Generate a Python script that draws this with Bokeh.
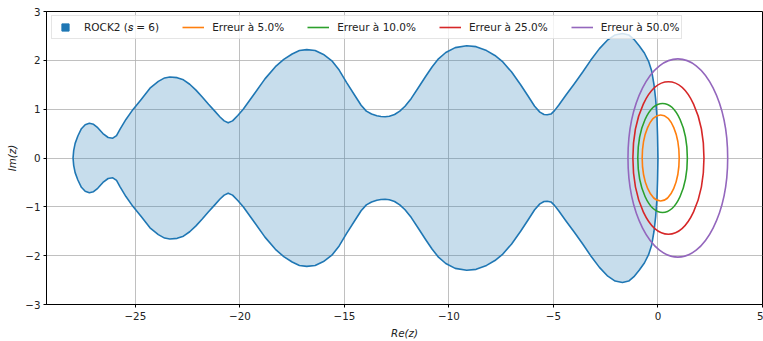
from bokeh.plotting import figure
from bokeh.models import Range1d, FixedTicker, Legend, LegendItem, ColumnDataSource
from bokeh.embed import file_html
from bokeh.resources import INLINE

# Upper half of the ROCK2 (s = 6) stability boundary, left to right (Re, Im)
boundary_re = [
    -27.98, -27.95, -27.88, -27.75, -27.58, -27.40, -27.20, -27.00, -26.80, -26.55,
    -26.30, -26.08, -25.90, -25.73, -25.45, -25.12, -24.72, -24.30, -23.90, -23.60,
    -23.35, -23.00, -22.70, -22.40, -22.10, -21.80, -21.50, -21.20, -20.95, -20.75,
    -20.56, -20.35, -20.10, -19.84, -19.28, -18.80, -18.30, -17.90, -17.50, -17.15,
    -16.80, -16.40, -16.00, -15.60, -15.25, -14.90, -14.50, -14.20, -13.95, -13.70,
    -13.45, -13.25, -13.05, -12.85, -12.60, -12.35, -12.10, -11.80, -11.45, -11.10,
    -10.80, -10.50, -10.15, -9.70, -9.15, -8.70, -8.20, -7.80, -7.45, -7.00,
    -6.57, -6.20, -5.90, -5.65, -5.45, -5.30, -5.12, -4.95, -4.75, -4.40,
    -4.00, -3.60, -3.22, -2.80, -2.40, -2.05, -1.70, -1.40, -1.15, -0.90,
    -0.65, -0.45, -0.30, -0.19, -0.11, -0.05, -0.02, 0.00,
]
boundary_im = [
    0.00, 0.15, 0.30, 0.45, 0.60, 0.68, 0.71, 0.69, 0.62, 0.50,
    0.42, 0.405, 0.46, 0.59, 0.79, 0.99, 1.20, 1.43, 1.57, 1.64,
    1.66, 1.645, 1.60, 1.51, 1.39, 1.25, 1.10, 0.96, 0.84, 0.76,
    0.72, 0.76, 0.87, 1.00, 1.33, 1.62, 1.87, 2.02, 2.13, 2.20,
    2.22, 2.20, 2.12, 1.99, 1.80, 1.55, 1.28, 1.08, 0.96, 0.90,
    0.865, 0.85, 0.845, 0.855, 0.89, 0.96, 1.06, 1.22, 1.45, 1.68,
    1.87, 2.03, 2.16, 2.26, 2.30, 2.28, 2.20, 2.10, 1.98, 1.76,
    1.50, 1.26, 1.06, 0.94, 0.89, 0.885, 0.90, 0.97, 1.08, 1.29,
    1.52, 1.76, 2.00, 2.24, 2.42, 2.52, 2.55, 2.52, 2.43, 2.30,
    2.15, 1.98, 1.78, 1.50, 1.20, 0.85, 0.45, 0.00,
]

# Error level curves: centre on the real axis, full width and height
err_labels = ["Erreur à 5.0%", "Erreur à 10.0%", "Erreur à 25.0%", "Erreur à 50.0%"]
err_cx = [0.13, 0.22, 0.50, 0.95]
err_w = [1.77, 2.37, 3.40, 4.77]
err_h = [1.76, 2.23, 3.12, 4.06]
err_colors = ["#ff7f0e", "#2ca02c", "#d62728", "#9467bd"]

x_ticks = [-25, -20, -15, -10, -5, 0, 5]
y_ticks = [-3, -2, -1, 0, 1, 2, 3]

FONT = "DejaVu Sans"
TXT = "#222222"
NAN = float("nan")

p = figure(width=763, height=341, output_backend="svg", toolbar_location=None,
           x_range=Range1d(-29.25, 5.0), y_range=Range1d(-3, 3),
           min_border_left=46, min_border_right=1, min_border_top=11, min_border_bottom=35)

# Closed boundary: upper half then its mirror image below the real axis
xs = boundary_re + boundary_re[::-1]
ys = boundary_im + [-v for v in boundary_im[::-1]]
p.patch(xs, ys, fill_color="#1f77b4", fill_alpha=0.25, line_color=None)
p.line(xs, ys, line_color="#1f77b4", line_width=1.6, line_join="round")

items = []
# legend-only handles (a single undrawn NaN point each)
rock = p.scatter([NAN], [NAN], marker="square", size=8,
                 fill_color="#1f77b4", line_color="#1f77b4")
items.append(LegendItem(label="ROCK2 (𝑠 = 6)", renderers=[rock]))

src = ColumnDataSource(dict(x=err_cx, y=[0] * 4, w=err_w, h=err_h, c=err_colors))
p.ellipse(x="x", y="y", width="w", height="h", source=src, fill_alpha=0,
          line_color="c", line_width=1.6)
for lab, col in zip(err_labels, err_colors):
    r = p.line([NAN, NAN], [NAN, NAN], line_color=col, line_width=1.6)
    items.append(LegendItem(label=lab, renderers=[r]))

legend = Legend(items=items, orientation="horizontal", location=(5, 265),
                glyph_width=22, glyph_height=18, label_height=18, label_standoff=8,
                spacing=23, padding=2, margin=0,
                label_text_font=FONT, label_text_font_size="10.5px", label_text_color=TXT,
                border_line_color="#cccccc", border_line_width=1,
                background_fill_color="white", background_fill_alpha=0.8)
p.add_layout(legend, "center")

# Axes, ticks and grid
p.xaxis.ticker = FixedTicker(ticks=x_ticks)
p.yaxis.ticker = FixedTicker(ticks=y_ticks)
p.xaxis.major_label_overrides = {t: str(t).replace("-", "\u2212") for t in x_ticks}
p.yaxis.major_label_overrides = {t: str(t).replace("-", "\u2212") for t in y_ticks}
p.xaxis.axis_label = "Re(z)"
p.yaxis.axis_label = "Im(z)"
for ax in (p.xaxis, p.yaxis):
    ax.axis_label_text_font = FONT
    ax.axis_label_text_font_size = "10.3px"
    ax.axis_label_text_font_style = "italic"
    ax.axis_label_text_color = TXT
    ax.major_label_text_font = FONT
    ax.major_label_text_font_size = "10.3px"
    ax.major_label_text_color = TXT
    ax.axis_line_color = "black"
    ax.major_tick_line_color = "black"
    ax.major_tick_out = 3
    ax.major_tick_in = 0
    ax.minor_tick_line_color = None
p.xaxis.major_label_standoff = 4
p.xaxis.axis_label_standoff = 4
p.yaxis.major_label_standoff = 3
p.yaxis.axis_label_standoff = 4
p.grid.grid_line_color = "#b0b0b0"
p.grid.grid_line_width = 0.8
p.outline_line_color = "black"
p.outline_line_width = 1
p.background_fill_color = "white"
p.border_fill_color = "white"

open("out.html", "w").write(file_html(p, INLINE))
